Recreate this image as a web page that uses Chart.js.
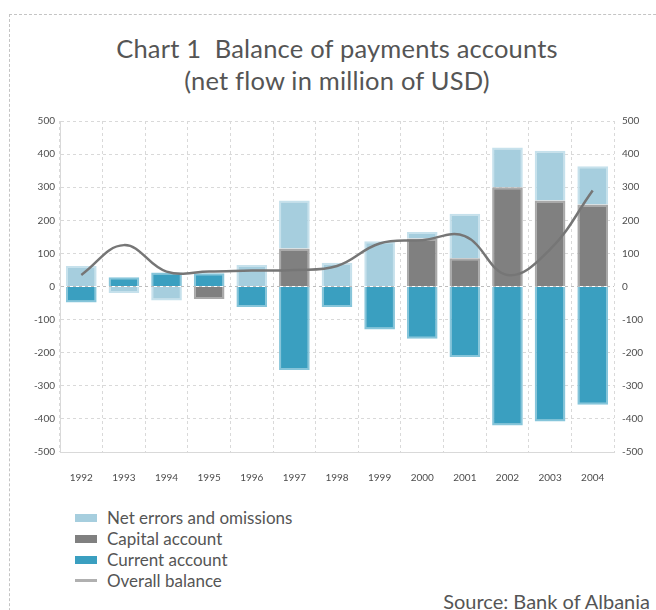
<!DOCTYPE html>
<html>
<head>
<meta charset="utf-8">
<script src="https://cdn.jsdelivr.net/npm/chart.js@4.4.1/dist/chart.umd.min.js"></script>
<style>
body { margin:0; width:656px; height:610px; overflow:hidden; background:#fff; font-family: Lato, "Open Sans", sans-serif; position:relative; }
#frame { position:absolute; left:9px; top:14px; width:700px; height:700px; border:1px dashed #c4c4c4; }
#title { position:absolute; left:0; top:32px; width:674px; text-align:center; color:#555; font-size:25.5px; line-height:32px; letter-spacing:0.2px; }
#wrap { position:absolute; left:0; top:100px; width:656px; height:400px; }
#legend { position:absolute; left:75px; top:507px; font-size:17px; color:#555; }
.item { height:21px; display:flex; align-items:center; }
.swatch { width:22px; height:8px; margin-right:10px; }
.swatch.line { height:3px; }
#source { position:absolute; right:6px; top:589px; font-size:20px; color:#555; }
</style>
</head>
<body>
<div id="frame"></div>
<div id="title">Chart 1&nbsp; Balance of payments accounts<br>(net flow in million of USD)</div>
<div id="wrap"><canvas id="bopChart" width="656" height="400"></canvas></div>
<div id="legend"></div>
<div id="source">Source: Bank of Albania</div>

<script>
// Years on the x axis
var years = ['1992','1993','1994','1995','1996','1997','1998','1999','2000','2001','2002','2003','2004'];

// Balance of payments components, million USD
var capitalAccount = [0, 0, 0, -38, 0, 115, 0, 0, 145, 85, 300, 260, 248];
var netErrors      = [62, -20, -42, 0, 65, 145, 72, 137, 20, 135, 120, 150, 115];
var currentAccount = [-48, 28, 42, 40, -62, -252, -62, -130, -158, -213, -420, -408, -357];
var overallBalance = [35, 125, 45, 45, 48, 50, 62, 130, 140, 152, 35, 112, 290];

// Shared tick range for both value axes
var axisMin = -500;
var axisMax = 500;
var axisStep = 100;

var textColor = '#4d4d4d';
var gridColor = '#d9d9d9';

var chart = new Chart(document.getElementById('bopChart'), {
    type: 'bar',
    data: {
        labels: years,
        datasets: [
            {
                type: 'line',
                label: 'Overall balance',
                data: overallBalance,
                stack: 'balance',
                order: -1,
                borderColor: '#767676',
                backgroundColor: '#9a9a9a',
                borderWidth: 2.5,
                pointRadius: 0,
                tension: 0.4,
                legendColor: '#b0b0b0'
            },
            {
                label: 'Capital account',
                data: capitalAccount,
                backgroundColor: '#808080',
                borderColor: '#a9a9a9',
                borderWidth: 2
            },
            {
                label: 'Net errors and omissions',
                data: netErrors,
                backgroundColor: '#a6cede',
                borderColor: '#c6e1ec',
                borderWidth: 2
            },
            {
                label: 'Current account',
                data: currentAccount,
                backgroundColor: '#3a9fc0',
                borderColor: '#86c5da',
                borderWidth: 2
            }
        ]
    },
    options: {
        responsive: false,
        animation: false,
        categoryPercentage: 1,
        barPercentage: 0.72,
        layout: { padding: { top: 21, bottom: 8, left: 0, right: 0 } },
        plugins: {
            legend: { display: false },
            tooltip: { enabled: false }
        },
        scales: {
            x: {
                stacked: true,
                // tall enough that the year labels are not clipped
                afterFit: function(scale) { scale.height = 40; },
                grid: { color: gridColor, drawTicks: false },
                border: { color: gridColor, dash: [3, 3] },
                ticks: { color: textColor, font: { family: 'Lato', size: 10 }, padding: 20, maxRotation: 0 }
            },
            y: {
                stacked: true,
                min: axisMin,
                max: axisMax,
                afterFit: function(scale) { scale.width = 60; },
                grid: {
                    drawTicks: false,
                    color: function(ctx) { return ctx.tick && ctx.tick.value === 0 ? '#bdbdbd' : gridColor; }
                },
                border: { color: gridColor, dash: [3, 3] },
                ticks: { stepSize: axisStep, color: textColor, font: { family: 'Lato', size: 10 }, padding: 5 }
            },
            y2: {
                position: 'right',
                min: axisMin,
                max: axisMax,
                afterFit: function(scale) { scale.width = 42; },
                grid: { display: false, drawTicks: false },
                border: { display: false },
                ticks: { stepSize: axisStep, color: textColor, font: { family: 'Lato', size: 10 }, padding: 8 }
            }
        }
    }
});

// Legend listed top to bottom, built from the chart's own datasets
var legendOrder = ['Net errors and omissions', 'Capital account', 'Current account', 'Overall balance'];
var legendHtml = '';
legendOrder.forEach(function(name) {
    var ds = chart.data.datasets.find(function(d) { return d.label === name; });
    var isLine = ds.type === 'line';
    var colour = isLine ? ds.legendColor : ds.backgroundColor;
    legendHtml += '<div class="item"><span class="swatch' + (isLine ? ' line' : '') + '" style="background:' + colour + '"></span>' + name + '</div>';
});
document.getElementById('legend').innerHTML = legendHtml;
</script>
</body>
</html>
